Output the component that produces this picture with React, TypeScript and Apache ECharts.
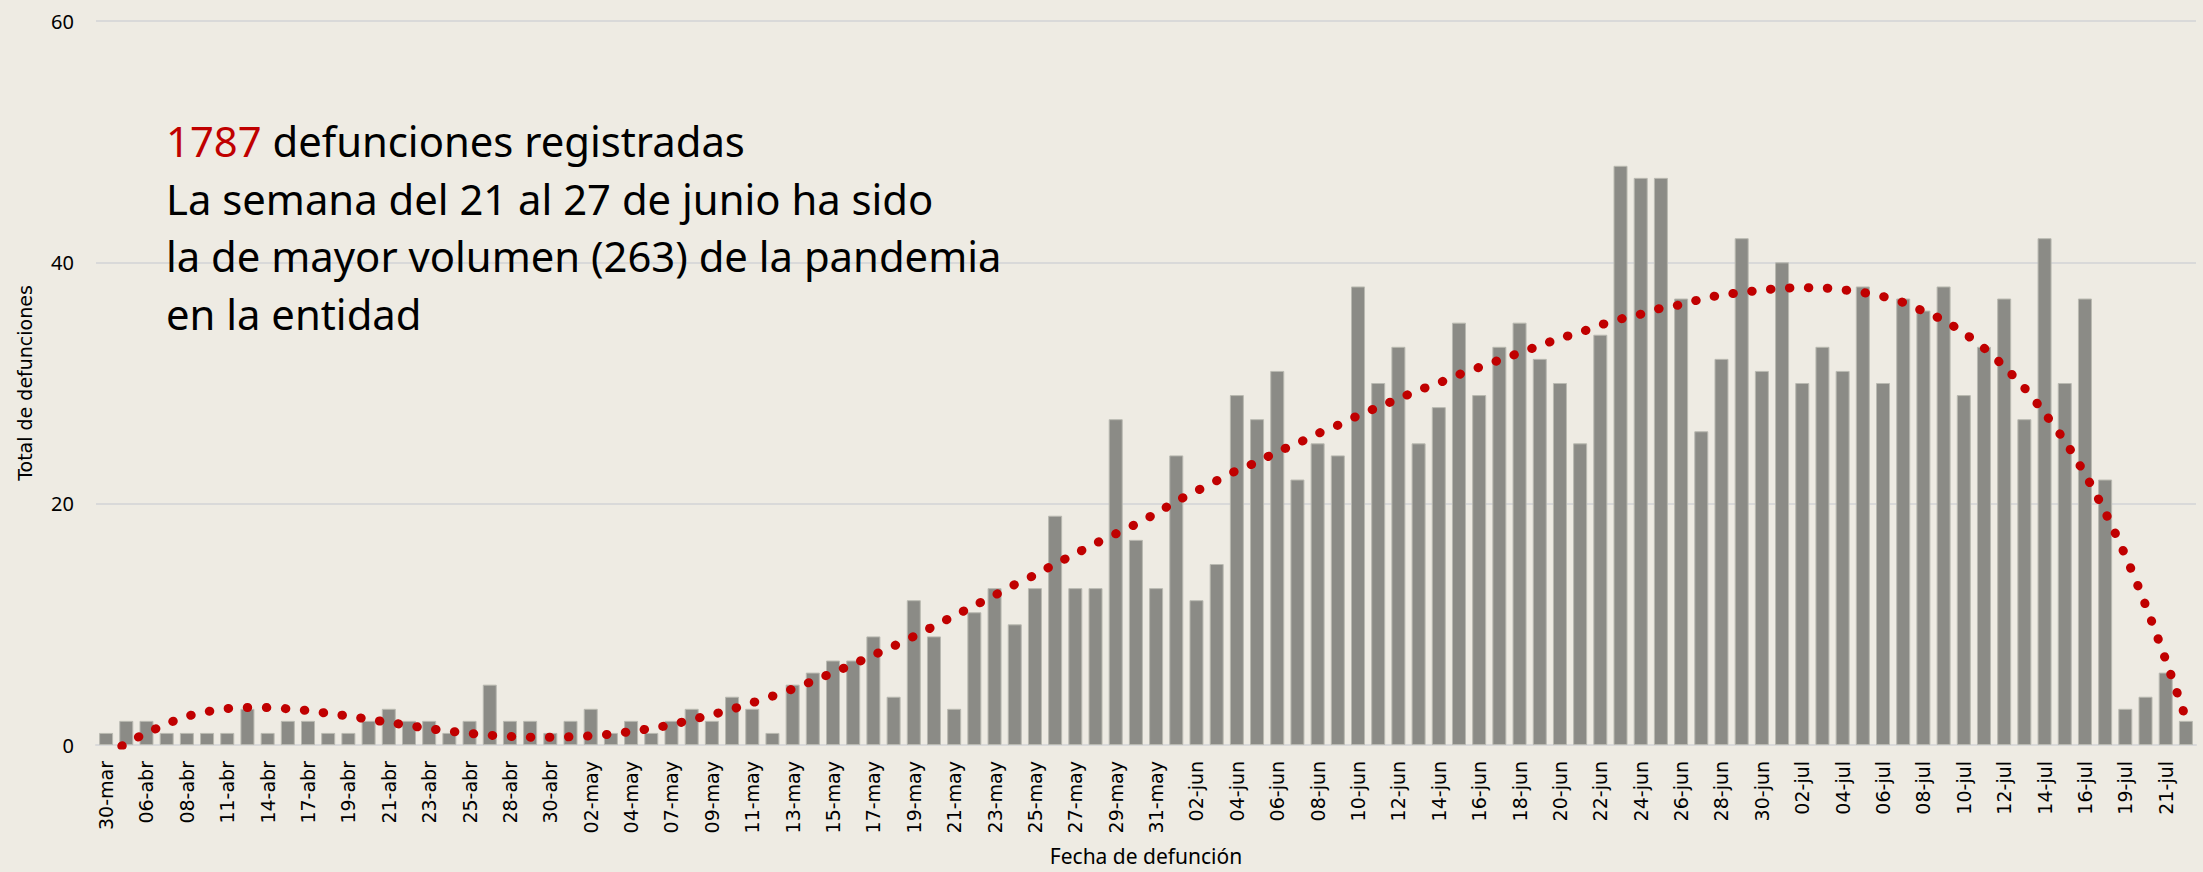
import React, { useEffect, useRef } from 'react';
import * as echarts from 'echarts';

const categories = [
  '30-mar', '03-abr', '06-abr', '07-abr', '08-abr', '10-abr', '11-abr', '13-abr', '14-abr', '16-abr',
  '17-abr', '18-abr', '19-abr', '20-abr', '21-abr', '22-abr', '23-abr', '24-abr', '25-abr', '27-abr',
  '28-abr', '29-abr', '30-abr', '01-may', '02-may', '03-may', '04-may', '06-may', '07-may', '08-may',
  '09-may', '10-may', '11-may', '12-may', '13-may', '14-may', '15-may', '16-may', '17-may', '18-may',
  '19-may', '20-may', '21-may', '22-may', '23-may', '24-may', '25-may', '26-may', '27-may', '28-may',
  '29-may', '30-may', '31-may', '01-jun', '02-jun', '03-jun', '04-jun', '05-jun', '06-jun', '07-jun',
  '08-jun', '09-jun', '10-jun', '11-jun', '12-jun', '13-jun', '14-jun', '15-jun', '16-jun', '17-jun',
  '18-jun', '19-jun', '20-jun', '21-jun', '22-jun', '23-jun', '24-jun', '25-jun', '26-jun', '27-jun',
  '28-jun', '29-jun', '30-jun', '01-jul', '02-jul', '03-jul', '04-jul', '05-jul', '06-jul', '07-jul',
  '08-jul', '09-jul', '10-jul', '11-jul', '12-jul', '13-jul', '14-jul', '15-jul', '16-jul', '18-jul',
  '19-jul', '20-jul', '21-jul', '22-jul',
];

const deaths = [
  1, 2, 2, 1, 1, 1, 1, 3, 1, 2, 2, 1, 1, 2, 3, 2, 2, 1, 2, 5, 2, 2, 1, 2, 3, 1, 2, 1,
  2, 3, 2, 4, 3, 1, 5, 6, 7, 7, 9, 4, 12, 9, 3, 11, 13, 10, 13, 19, 13, 13, 27, 17, 13, 24, 12,
  15, 29, 27, 31, 22, 25, 24, 38, 30, 33, 25, 28, 35, 29, 33, 35, 32, 30, 25, 34, 48, 47, 47, 37, 26, 32,
  42, 31, 40, 30, 33, 31, 38, 30, 37, 36, 38, 29, 33, 37, 27, 42, 30, 37, 22, 3, 4, 6, 2,
];

const trend = [
  -1.0, 0.15, 0.98, 1.75, 2.37, 2.76, 3.02, 3.11, 3.1, 3.0,
  2.85, 2.62, 2.4, 2.13, 1.87, 1.62, 1.36, 1.15, 0.97, 0.81,
  0.71, 0.65, 0.64, 0.68, 0.76, 0.91, 1.12, 1.38, 1.68, 2.1,
  2.51, 2.97, 3.5, 4.05, 4.65, 5.3, 6.0, 6.7, 7.45, 8.2,
  9.0, 9.85, 10.7, 11.55, 12.4, 13.3, 14.1, 15.0, 15.85, 16.7,
  17.5, 18.3, 19.2, 20.2, 21.05, 21.9, 22.75, 23.45, 24.3, 25.0,
  25.8, 26.5, 27.3, 28.0, 28.7, 29.4, 30.0, 30.7, 31.3, 31.9,
  32.5, 33.1, 33.7, 34.2, 34.8, 35.3, 35.7, 36.2, 36.5, 36.95,
  37.3, 37.5, 37.7, 37.85, 37.9, 37.88, 37.73, 37.5, 37.17, 36.67,
  35.95, 35.2, 34.15, 32.9, 31.35, 29.6, 27.5, 25.2, 22.45, 19.3,
  15.7, 11.6, 7.05, 2.2,
];

const yMin = 0;
const yMax = 60;
const yInterval = 20;

const totalDeaths = '1787';
const annotationRest = [
  ' defunciones registradas',
  'La semana del 21 al 27 de junio ha sido',
  'la de mayor volumen (263) de la pandemia',
  'en la entidad',
];

const xAxisName = 'Fecha de defunción';
const yAxisName = 'Total de defunciones';

export default function App() {
  const ref = useRef<HTMLDivElement>(null);

  useEffect(() => {
    document.body.style.margin = '0';
    document.body.style.overflow = 'hidden';
    const chart = echarts.init(ref.current as HTMLDivElement, null, { renderer: 'svg' });
    chart.setOption({
      animation: false,
      backgroundColor: '#EEEBE3',
      grid: { left: 96, right: 7, top: 21, bottom: 127, containLabel: false, outerBoundsMode: 'none' },
      xAxis: {
        type: 'category',
        data: categories,
        name: xAxisName,
        nameLocation: 'middle',
        nameGap: 100,
        nameTextStyle: { fontFamily: 'Noto Sans', fontSize: 21, color: '#000' },
        axisTick: { show: false },
        axisLine: { lineStyle: { color: '#D9D9D9', width: 2 } },
        axisLabel: {
          interval: 1,
          rotate: 90,
          margin: 16,
          fontFamily: 'DejaVu Sans',
          fontSize: 19,
          color: '#000',
        },
      },
      yAxis: {
        type: 'value',
        min: yMin,
        max: yMax,
        interval: yInterval,
        name: yAxisName,
        nameLocation: 'middle',
        nameGap: 62,
        nameTextStyle: { fontFamily: 'DejaVu Sans', fontSize: 19, color: '#000' },
        axisLine: { show: false },
        axisTick: { show: false },
        axisLabel: { margin: 22, fontFamily: 'Noto Sans', fontSize: 20, color: '#000' },
        splitLine: { lineStyle: { color: '#D9D9D9', width: 2 } },
      },
      series: [
        {
          type: 'bar',
          data: deaths,
          barWidth: 14,
          itemStyle: { color: '#8B8B86', borderColor: '#B9B9B1', borderWidth: 1 },
          z: 2,
        },
        {
          type: 'line',
          data: trend,
          smooth: 0.3,
          symbol: 'none',
          clip: true,
          lineStyle: { color: '#C00000', width: 9, type: [0.5, 18.5], cap: 'round' },
          z: 3,
        },
      ],
      graphic: [
        {
          type: 'text',
          left: 166,
          top: 112,
          style: {
            text:
              '{r|' + totalDeaths + '}' + annotationRest[0] + '\n' +
              annotationRest.slice(1).join('\n'),
            fontFamily: 'Noto Sans',
            fontSize: 41.8,
            lineHeight: 57.5,
            fill: '#000',
            rich: {
              r: { fill: '#C00000', fontFamily: 'Noto Sans', fontSize: 41.8, lineHeight: 57.5 },
            },
          },
          z: 10,
        },
      ],
    });
    return () => chart.dispose();
  }, []);

  return <div ref={ref} style={{ width: 2203, height: 872 }} />;
}
